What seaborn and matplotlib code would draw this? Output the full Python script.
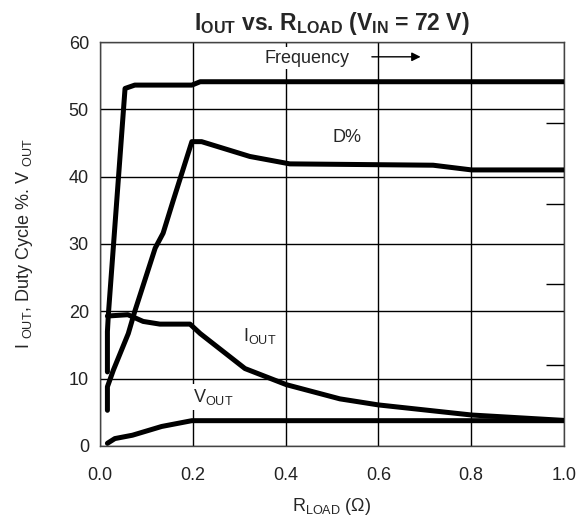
import matplotlib
matplotlib.use("Agg")
import matplotlib.pyplot as plt
import seaborn as sns
import pandas as pd

# Load sweep at VIN = 72 V
freq_x = [0.016, 0.016, 0.018, 0.054, 0.075, 0.198, 0.216, 1.0]
freq_y = [11.0, 17.0, 19.5, 53.1, 53.6, 53.6, 54.1, 54.1]

duty_x = [0.016, 0.016, 0.029, 0.061, 0.075, 0.097, 0.119, 0.136, 0.158, 0.198,
          0.219, 0.323, 0.409, 0.718, 0.801, 1.0]
duty_y = [5.3, 8.8, 11.3, 16.7, 20.0, 24.7, 29.4, 31.6, 36.5, 45.2,
          45.2, 43.0, 41.9, 41.7, 41.0, 41.0]

iout_x = [0.016, 0.06, 0.093, 0.129, 0.194, 0.216, 0.3125, 0.402, 0.517, 0.6, 0.801, 1.0]
iout_y = [19.3, 19.5, 18.5, 18.1, 18.1, 16.7, 11.5, 9.1, 7.0, 6.1, 4.6, 3.8]

vout_x = [0.016, 0.032, 0.07, 0.133, 0.198, 1.0]
vout_y = [0.4, 1.1, 1.6, 2.9, 3.76, 3.76]

x_ticks = [0.0, 0.2, 0.4, 0.6, 0.8, 1.0]
y_ticks = [0, 10, 20, 30, 40, 50, 60]
right_ticks = [12, 24, 36, 48]

sns.set_style("white")
plt.rcParams["font.family"] = ["Liberation Sans", "DejaVu Sans"]
plt.rcParams["mathtext.fontset"] = "custom"
plt.rcParams["mathtext.rm"] = "Liberation Sans"
plt.rcParams["mathtext.it"] = "Liberation Sans"
plt.rcParams["mathtext.bf"] = "Liberation Sans:bold"

FS = 13

fig = plt.figure(figsize=(5.76, 5.25), dpi=100)
ax = fig.add_axes([0.1736, 0.1505, 0.8055, 0.7695])

series = [
    ("Frequency", freq_x, freq_y),
    ("D%", duty_x, duty_y),
    ("IOUT", iout_x, iout_y),
    ("VOUT", vout_x, vout_y),
]
for name, xs, ys in series:
    df = pd.DataFrame({"R": xs, "val": ys})
    sns.lineplot(data=df, x="R", y="val", sort=False, estimator=None,
                 color="black", linewidth=3.6, ax=ax, zorder=3)

ax.set_xlim(0, 1.0)
ax.set_ylim(0, 60)
ax.set_xticks(x_ticks)
ax.set_xticklabels([f"{v:.1f}" for v in x_ticks])
ax.set_yticks(y_ticks)
ax.grid(True, color="black", linewidth=1.0)
ax.tick_params(axis="both", length=0, labelsize=FS, colors="#222222")
ax.tick_params(axis="x", pad=15)
ax.tick_params(axis="y", pad=8)
for s in ax.spines.values():
    s.set_color("#444444")
    s.set_linewidth(1.0)

ax2 = ax.twinx()
ax2.set_ylim(0, 60)
ax2.set_yticks(right_ticks)
ax2.tick_params(axis="y", direction="in", length=13, width=1.0,
                labelright=False, colors="black")
ax2.grid(False)
for s in ax2.spines.values():
    s.set_visible(False)

box = dict(facecolor="white", edgecolor="none", pad=2)
ax.text(0.447, 57.6, "Frequency", fontsize=FS, ha="center", va="center",
        bbox=box, zorder=4)
ax.annotate("", xy=(0.697, 57.8), xytext=(0.58, 57.8),
            arrowprops=dict(arrowstyle="-|>", color="black", lw=1.0,
                            mutation_scale=13), zorder=4)
ax.text(0.532, 45.8, "D%", fontsize=FS, ha="center", va="center", zorder=4)
ax.text(0.345, 16.3, r"I$_{\mathrm{OUT}}$", fontsize=FS, ha="center", va="center",
        bbox=box, zorder=4)
ax.text(0.244, 7.3, r"V$_{\mathrm{OUT}}$", fontsize=FS, ha="center", va="center",
        bbox=box, zorder=4)

ax.set_xlabel(r"R$_{\mathrm{LOAD}}$ ($\Omega$)", fontsize=FS, labelpad=9)
ax.set_ylabel(r"I $_{\mathrm{OUT}}$, Duty Cycle %. V $_{\mathrm{OUT}}$", fontsize=FS,
              labelpad=24)
ax.set_title(r"I$_{\mathbf{OUT}}$ vs. R$_{\mathbf{LOAD}}$ (V$_{\mathbf{IN}}$ = 72 V)",
             fontsize=16.5, fontweight="bold", pad=9)

fig.savefig("out.png", dpi=100)
